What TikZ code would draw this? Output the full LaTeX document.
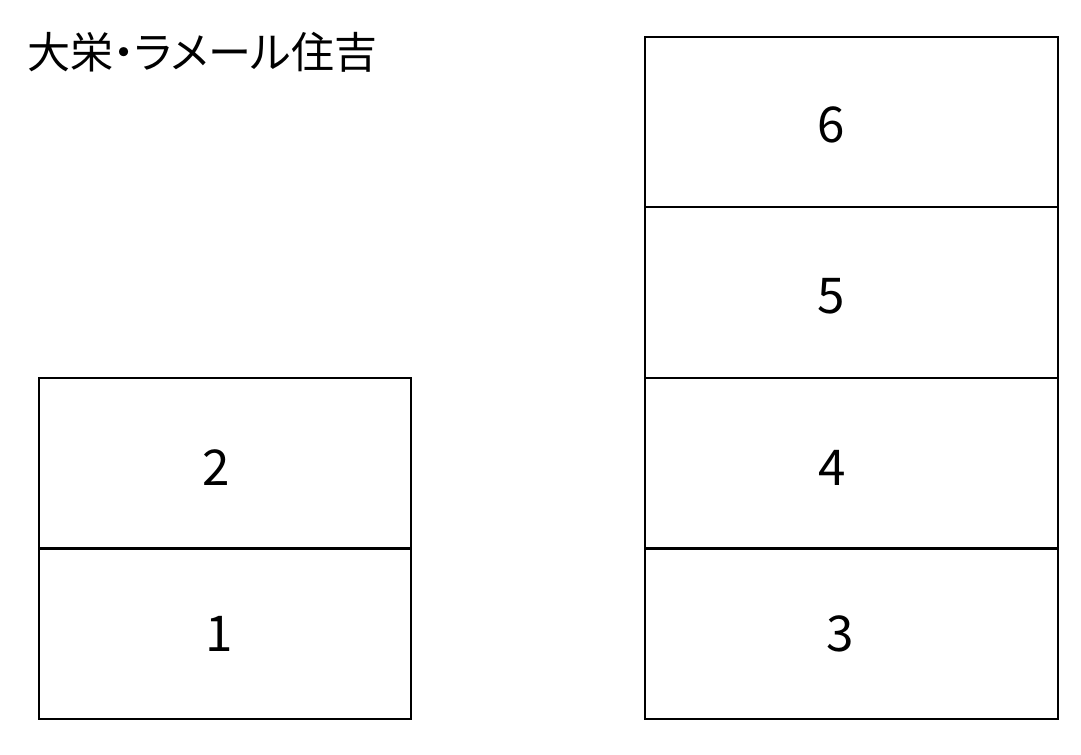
\documentclass[tikz,border=0pt]{standalone}
\usepackage{fontspec}
\setmainfont{Noto Sans CJK JP}[RawFeature=+palt]
\usetikzlibrary{positioning}

\begin{document}
\begin{tikzpicture}[x=0.75pt,y=-0.75pt,
    box/.style={draw,rectangle,line width=1.6pt,minimum height=127.9pt,outer sep=0pt,inner sep=0pt},
    leftbox/.style={box,minimum width=279pt},
    rightbox/.style={box,minimum width=309.75pt},
    num/.style={inner sep=0pt,font=\fontsize{37}{40}\selectfont}]
  \useasboundingbox (0,0) rectangle (1081,755);
  \node[anchor=west,inner sep=0pt,font=\fontsize{32.3}{38}\selectfont] (title) at (27,52) {大栄・ラメール住吉};

  %% left stack
  \node[leftbox] (b1) at (225,633.75) {};
  \node[leftbox,above=0pt of b1] (b2) {};
  %% right stack
  \node[rightbox] (b3) at (851.5,633.75) {};
  \node[rightbox,above=0pt of b3] (b4) {};
  \node[rightbox,above=0pt of b4] (b5) {};
  \node[rightbox,above=0pt of b5] (b6) {};

  %% numbers
  \node[num] (1) at (219,634) {1};
  \node[num] (2) at (216,468) {2};
  \node[num] (3) at (840,634) {3};
  \node[num] (4) at (832,468) {4};
  \node[num] (5) at (831,296) {5};
  \node[num] (6) at (831,125) {6};
\end{tikzpicture}
\end{document}
